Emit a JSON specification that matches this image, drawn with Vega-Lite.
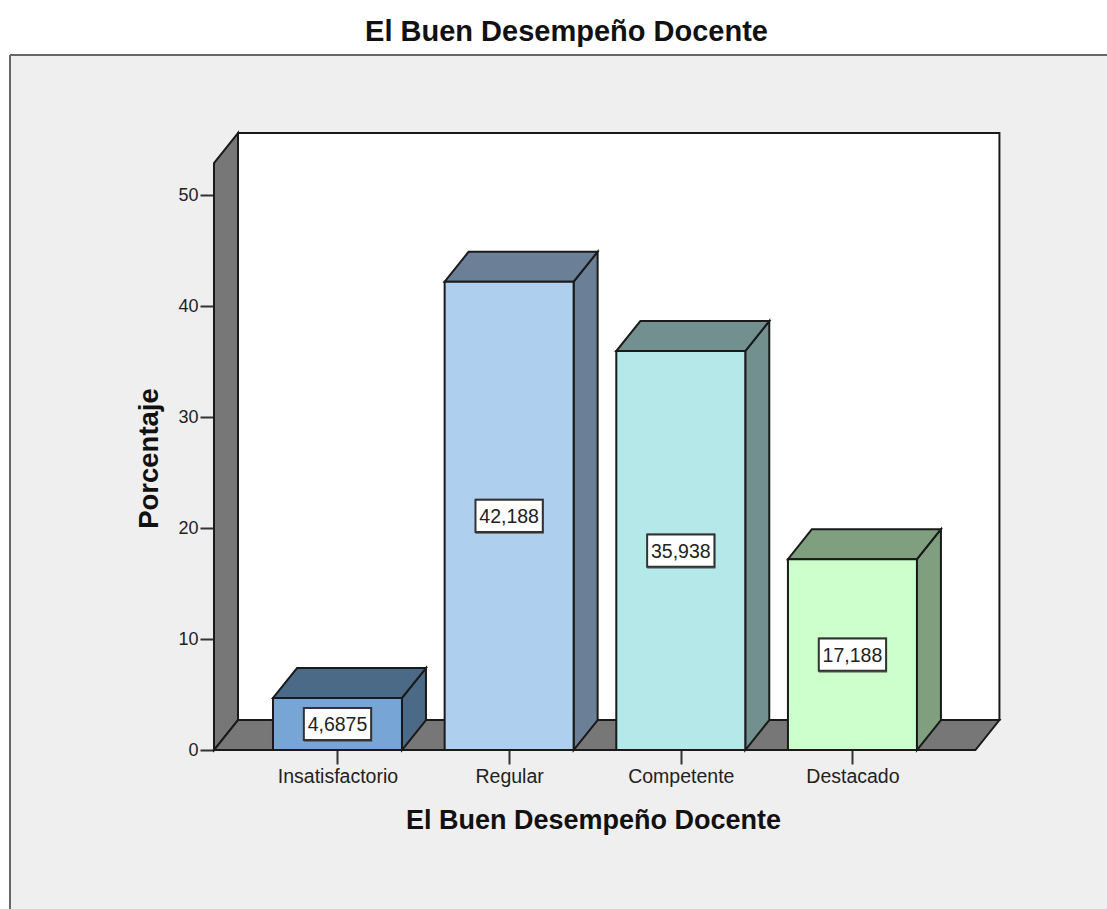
{
  "$schema": "https://vega.github.io/schema/vega-lite/v6.json",
  "width": 1097,
  "height": 854,
  "autosize": {"type": "none"},
  "padding": {"left": 10, "top": 55, "right": 0, "bottom": 0},
  "background": "white",
  "view": {"fill": "#efefef", "stroke": null},
  "config": {"font": "Liberation Sans"},
  "title": {
    "text": "El Buen Desempeño Docente",
    "font": "Liberation Sans",
    "fontSize": 29,
    "fontWeight": "bold",
    "color": "#111111",
    "anchor": "middle",
    "frame": "group",
    "dx": 8,
    "offset": 7
  },
  "layer": [
    {
      "description": "Back wall of the box, carrying both axes",
      "data": {"values": [{"pared": "fondo"}]},
      "transform": [
        {"calculate": "0.4204", "as": "px"},
        {"calculate": "4.8563", "as": "px2"},
        {"calculate": "2.7", "as": "py"},
        {"calculate": "55.58", "as": "py2"}
      ],
      "mark": {"type": "rect", "fill": "white", "stroke": "#1a1a1a", "strokeWidth": 2},
      "encoding": {
        "x": {
          "field": "px",
          "type": "quantitative",
          "scale": {"domain": [-0.9078, 5.483], "nice": false, "zero": false},
          "axis": {
            "title": "El Buen Desempeño Docente",
            "titleFont": "Liberation Sans",
            "titleFontSize": 27,
            "titleFontWeight": "bold",
            "titleColor": "#111111",
            "titleX": 583,
            "titleY": 78,
            "titleAlign": "center",
            "titleBaseline": "alphabetic",
            "offset": -159,
            "domain": false,
            "grid": false,
            "values": [1, 2, 3, 4],
            "tickSize": 14,
            "tickColor": "#333333",
            "tickWidth": 2,
            "labelFont": "Liberation Sans",
            "labelFontSize": 19.5,
            "labelColor": "#222222",
            "labelPadding": 3,
            "labelExpr": "['Insatisfactorio','Regular','Competente','Destacado'][datum.value - 1]"
          }
        },
        "x2": {"field": "px2"},
        "y": {
          "field": "py",
          "type": "quantitative",
          "scale": {"domain": [-14.324, 62.613], "nice": false, "zero": false},
          "axis": {
            "title": "Porcentaje",
            "titleFont": "Liberation Sans",
            "titleFontSize": 27.5,
            "titleFontWeight": "bold",
            "titleColor": "#111111",
            "titleAngle": 270,
            "titleX": -57,
            "titleY": 403,
            "titleAlign": "center",
            "titleBaseline": "alphabetic",
            "offset": -204,
            "domain": false,
            "grid": false,
            "values": [0, 10, 20, 30, 40, 50],
            "tickSize": 14,
            "tickColor": "#333333",
            "tickWidth": 2,
            "labelFont": "Liberation Sans",
            "labelFontSize": 18,
            "labelColor": "#222222",
            "labelPadding": 2
          }
        },
        "y2": {"field": "py2"}
      }
    },
    {
      "description": "Top edge of the grey panel",
      "data": {"values": [{"borde": "superior"}]},
      "transform": [{"calculate": "62.613", "as": "py"}],
      "mark": {"type": "rule", "color": "#666666", "strokeWidth": 2},
      "encoding": {"y": {"field": "py", "type": "quantitative", "axis": null}}
    },
    {
      "description": "Left edge of the grey panel",
      "data": {"values": [{"borde": "izquierdo"}]},
      "transform": [{"calculate": "-0.9078", "as": "px"}],
      "mark": {"type": "rule", "color": "#666666", "strokeWidth": 2},
      "encoding": {"x": {"field": "px", "type": "quantitative", "axis": null}}
    },
    {
      "description": "Left wall of the box",
      "data": {"values": [{"fondo": 0}, {"fondo": 1}]},
      "transform": [
        {"calculate": "0.2806 + 0.1398 * datum.fondo", "as": "px"},
        {"calculate": "2.7 * datum.fondo", "as": "py"},
        {"calculate": "52.88 + 2.7 * datum.fondo", "as": "py2"}
      ],
      "mark": {"type": "area", "orient": "vertical", "fill": "#777777", "stroke": "#1a1a1a", "strokeWidth": 2},
      "encoding": {
        "x": {"field": "px", "type": "quantitative", "axis": null},
        "y": {"field": "py", "type": "quantitative", "axis": null},
        "y2": {"field": "py2"}
      }
    },
    {
      "description": "Floor of the box",
      "data": {"values": [{"fondo": 0}, {"fondo": 1}]},
      "transform": [
        {"calculate": "0.2806 + 0.1398 * datum.fondo", "as": "px"},
        {"calculate": "4.7165 + 0.1398 * datum.fondo", "as": "px2"},
        {"calculate": "2.7 * datum.fondo", "as": "py"}
      ],
      "mark": {"type": "area", "orient": "horizontal", "fill": "#777777", "stroke": "#1a1a1a", "strokeWidth": 2},
      "encoding": {
        "y": {"field": "py", "type": "quantitative", "axis": null},
        "x": {"field": "px", "type": "quantitative", "axis": null},
        "x2": {"field": "px2"}
      }
    },
    {
      "description": "Bars: side, top and front faces with value labels",
      "data": {
        "values": [
          {"categoria": "Insatisfactorio", "porcentaje": 4.6875},
          {"categoria": "Regular", "porcentaje": 42.188},
          {"categoria": "Competente", "porcentaje": 35.938},
          {"categoria": "Destacado", "porcentaje": 17.188}
        ]
      },
      "transform": [
        {"calculate": "indexof(['Insatisfactorio','Regular','Competente','Destacado'], datum.categoria) + 1", "as": "orden"},
        {"calculate": "datum.orden - 0.3757", "as": "izq"},
        {"calculate": "datum.orden + 0.3757", "as": "der"},
        {"calculate": "replace(toString(datum.porcentaje), '.', ',')", "as": "etiqueta"},
        {"calculate": "[0, 1]", "as": "fondo"},
        {"flatten": ["fondo"]},
        {"calculate": "datum.izq + 0.1398 * datum.fondo", "as": "tapaIzq"},
        {"calculate": "datum.der + 0.1398 * datum.fondo", "as": "tapaDer"},
        {"calculate": "datum.porcentaje + 2.7 * datum.fondo", "as": "alto"},
        {"calculate": "2.7 * datum.fondo", "as": "base"}
      ],
      "layer": [
        {
          "description": "Right side of each bar",
          "mark": {"type": "area", "orient": "vertical", "stroke": "#1a1a1a", "strokeWidth": 2},
          "encoding": {
            "x": {"field": "tapaDer", "type": "quantitative", "axis": null},
            "y": {"field": "base", "type": "quantitative", "axis": null},
            "y2": {"field": "alto"},
            "fill": {
              "field": "categoria",
              "type": "nominal",
              "legend": null,
              "scale": {
                "domain": ["Insatisfactorio", "Regular", "Competente", "Destacado"],
                "range": ["#4b6a88", "#6b8096", "#739090", "#7f9f7f"]
              }
            }
          }
        },
        {
          "description": "Top face of each bar",
          "mark": {"type": "area", "orient": "horizontal", "stroke": "#1a1a1a", "strokeWidth": 2},
          "encoding": {
            "y": {"field": "alto", "type": "quantitative", "axis": null},
            "x": {"field": "tapaIzq", "type": "quantitative", "axis": null},
            "x2": {"field": "tapaDer"},
            "fill": {
              "field": "categoria",
              "type": "nominal",
              "legend": null,
              "scale": {
                "domain": ["Insatisfactorio", "Regular", "Competente", "Destacado"],
                "range": ["#4b6a88", "#6b8096", "#739090", "#7f9f7f"]
              }
            }
          }
        },
        {
          "description": "Front face of each bar",
          "transform": [
            {"filter": "datum.fondo === 0"},
            {"calculate": "0", "as": "cero"}
          ],
          "mark": {"type": "rect", "stroke": "#1a1a1a", "strokeWidth": 2},
          "encoding": {
            "x": {"field": "izq", "type": "quantitative", "axis": null},
            "x2": {"field": "der"},
            "y": {"field": "cero", "type": "quantitative", "axis": null},
            "y2": {"field": "porcentaje"},
            "fill": {
              "field": "categoria",
              "type": "nominal",
              "legend": null,
              "scale": {
                "domain": ["Insatisfactorio", "Regular", "Competente", "Destacado"],
                "range": ["#77a6d6", "#aed0ee", "#b5e8e8", "#ccffcc"]
              }
            }
          }
        },
        {
          "description": "Soft shadow under each label box",
          "transform": [
            {"filter": "datum.fondo === 0"},
            {"calculate": "datum.orden - 0.196", "as": "cajaIzq"},
            {"calculate": "datum.orden + 0.196", "as": "cajaDer"},
            {"calculate": "datum.porcentaje / 2 - 1.45", "as": "cajaBaja"},
            {"calculate": "datum.porcentaje / 2 + 1.45", "as": "cajaAlta"}
          ],
          "mark": {"type": "rect", "fill": "#555555", "stroke": "#555555", "strokeWidth": 2, "opacity": 0.7, "xOffset": 1, "yOffset": 1},
          "encoding": {
            "x": {"field": "cajaIzq", "type": "quantitative", "axis": null},
            "x2": {"field": "cajaDer"},
            "y": {"field": "cajaBaja", "type": "quantitative", "axis": null},
            "y2": {"field": "cajaAlta"}
          }
        },
        {
          "description": "White box behind each value label",
          "transform": [
            {"filter": "datum.fondo === 0"},
            {"calculate": "datum.orden - 0.196", "as": "cajaIzq"},
            {"calculate": "datum.orden + 0.196", "as": "cajaDer"},
            {"calculate": "datum.porcentaje / 2 - 1.45", "as": "cajaBaja"},
            {"calculate": "datum.porcentaje / 2 + 1.45", "as": "cajaAlta"}
          ],
          "mark": {"type": "rect", "fill": "white", "stroke": "#333333", "strokeWidth": 2},
          "encoding": {
            "x": {"field": "cajaIzq", "type": "quantitative", "axis": null},
            "x2": {"field": "cajaDer"},
            "y": {"field": "cajaBaja", "type": "quantitative", "axis": null},
            "y2": {"field": "cajaAlta"}
          }
        },
        {
          "description": "Value label of each bar",
          "transform": [
            {"filter": "datum.fondo === 0"},
            {"calculate": "datum.porcentaje / 2", "as": "medio"}
          ],
          "mark": {"type": "text", "font": "Liberation Sans", "fontSize": 19.5, "color": "#222222", "align": "center", "baseline": "middle", "dy": 1},
          "encoding": {
            "x": {"field": "orden", "type": "quantitative", "axis": null},
            "y": {"field": "medio", "type": "quantitative", "axis": null},
            "text": {"field": "etiqueta"}
          }
        }
      ],
      "resolve": {"scale": {"fill": "independent"}}
    }
  ],
  "resolve": {
    "scale": {"fill": "independent"},
    "axis": {"x": "independent", "y": "independent"}
  }
}
